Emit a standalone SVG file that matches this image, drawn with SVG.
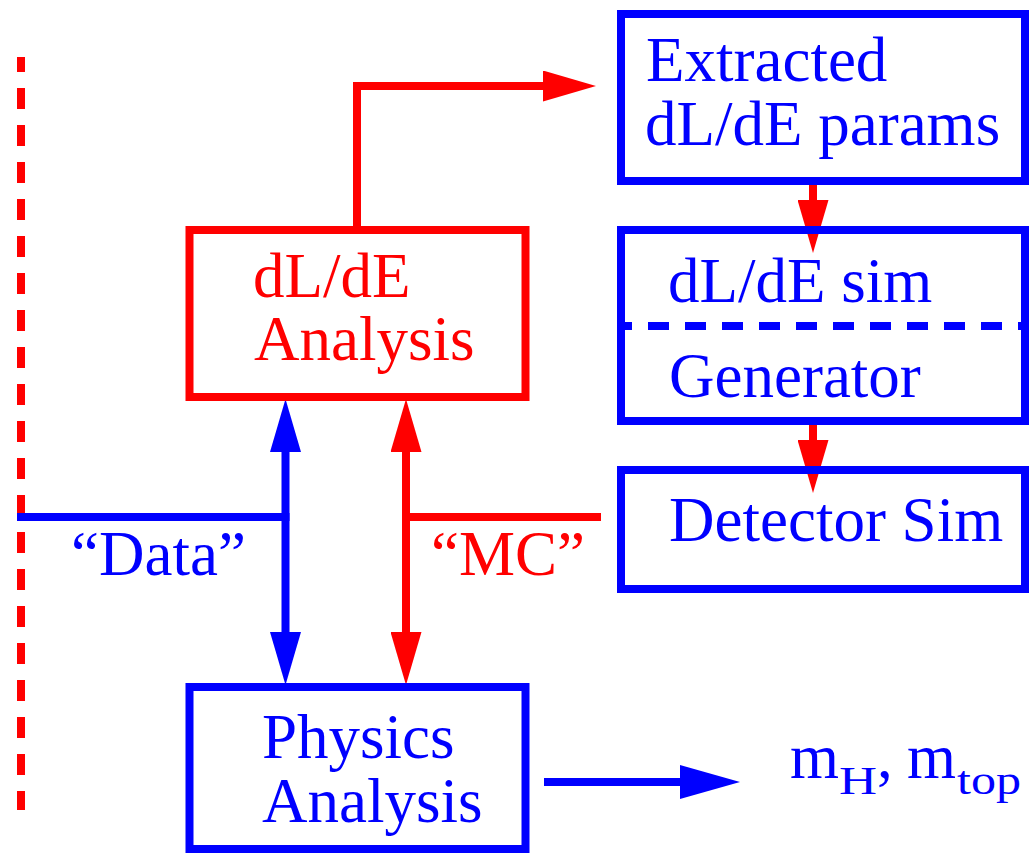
<svg xmlns="http://www.w3.org/2000/svg" width="1029" height="853" viewBox="0 0 1029 853">
  <style>
    .t { font-family: "Liberation Serif", "Times New Roman", serif; font-size: 63px; }
    .sub { font-family: "Liberation Serif", "Times New Roman", serif; font-size: 41px; }
    .red { fill: #ff0000; }
    .blue { fill: #0000ff; }
    .boxR { fill: none; stroke: #ff0000; stroke-width: 8; }
    .boxB { fill: none; stroke: #0000ff; stroke-width: 8; }
    .lnR { fill: none; stroke: #ff0000; stroke-width: 8; }
    .lnB { fill: none; stroke: #0000ff; stroke-width: 8; }
  </style>
  <defs>
    <marker id="ahR" markerUnits="userSpaceOnUse" viewBox="0 0 53 31" markerWidth="53" markerHeight="31" refX="0" refY="15.5" orient="auto-start-reverse">
      <path d="M0,0 L53,15.5 L0,31 Z" fill="#ff0000"/>
    </marker>
    <marker id="ahB" markerUnits="userSpaceOnUse" viewBox="0 0 53 31" markerWidth="53" markerHeight="31" refX="0" refY="15.5" orient="auto-start-reverse">
      <path d="M0,0 L53,15.5 L0,31 Z" fill="#0000ff"/>
    </marker>
    <marker id="ahBL" markerUnits="userSpaceOnUse" viewBox="0 0 60 34" markerWidth="60" markerHeight="34" refX="0" refY="17" orient="auto">
      <path d="M0,0 L60,17 L0,34 Z" fill="#0000ff"/>
    </marker>
  </defs>

  <line x1="21" y1="57" x2="21" y2="810" stroke="#ff0000" stroke-width="8" stroke-dasharray="21 16" stroke-dashoffset="6"/>

  <g id="connectors">
    <path class="lnR" d="M357,230 V86 H543" marker-end="url(#ahR)"/>
    <path class="lnR" d="M813,183 V200" marker-end="url(#ahR)"/>
    <path class="lnR" d="M813,423 V440" marker-end="url(#ahR)"/>
    <path class="lnR" d="M406,452 V632" marker-start="url(#ahR)" marker-end="url(#ahR)"/>
    <path class="lnR" d="M402,517 H601"/>
    <path class="lnB" d="M285.5,452 V632" marker-start="url(#ahB)" marker-end="url(#ahB)"/>
    <path class="lnB" d="M17,517 H289.5"/>
    <path class="lnB" d="M544,782 H680" stroke-width="9" marker-end="url(#ahBL)"/>
  </g>

  <g id="extracted">
    <rect class="boxB" x="621" y="14" width="404" height="167"/>
    <text class="t blue" x="646" y="81">Extracted</text>
    <text class="t blue" x="645" y="145">dL/dE params</text>
  </g>

  <g id="dlde-analysis">
    <rect class="boxR" x="189.5" y="230" width="336" height="167"/>
    <text class="t red" x="253" y="297">dL/dE</text>
    <text class="t red" x="254" y="360">Analysis</text>
  </g>

  <g id="sim-generator">
    <rect class="boxB" x="621" y="230" width="404" height="191"/>
    <line x1="617" y1="326" x2="1029" y2="326" stroke="#0000ff" stroke-width="8" stroke-dasharray="21 16" stroke-dashoffset="6"/>
    <text class="t blue" x="668" y="302">dL/dE sim</text>
    <text class="t blue" x="669" y="397">Generator</text>
  </g>

  <g id="detector-sim">
    <rect class="boxB" x="621" y="470" width="404" height="119"/>
    <text class="t blue" x="669" y="541">Detector Sim</text>
  </g>

  <g id="physics-analysis">
    <rect class="boxB" x="189.5" y="687" width="336" height="162"/>
    <text class="t blue" x="262" y="758">Physics</text>
    <text class="t blue" x="262" y="822">Analysis</text>
  </g>

  <g id="labels">
    <text class="t blue" x="71" y="575">“Data”</text>
    <text class="t red" x="431" y="575">“MC”</text>
  </g>

  <g id="result">
    <text class="t blue" x="790" y="778">m</text>
    <text class="sub blue" x="839" y="794" textLength="38" lengthAdjust="spacingAndGlyphs">H</text>
    <text class="t blue" x="877" y="778">,</text>
    <text class="t blue" x="907" y="778">m</text>
    <text class="sub blue" x="957" y="794" textLength="64" lengthAdjust="spacingAndGlyphs">top</text>
  </g>
</svg>
